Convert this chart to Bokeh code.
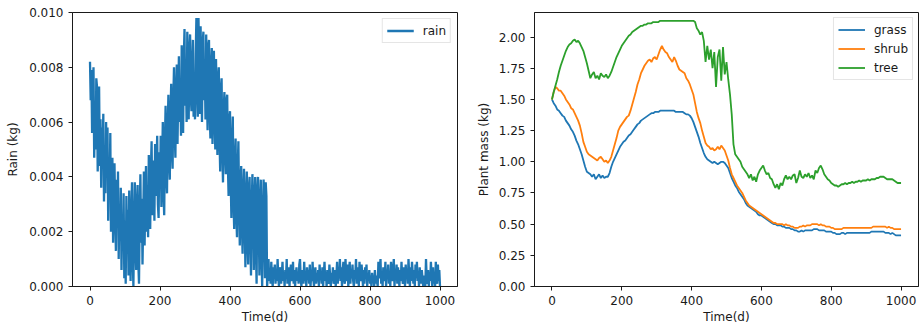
from bokeh.plotting import figure
from bokeh.layouts import row
from bokeh.models import Range1d, FixedTicker, NumeralTickFormatter
from bokeh.embed import file_html
from bokeh.resources import INLINE

# ---------------- data ----------------
# rain, in units of 1e-3 kg, every 2 days from day 0 to day 1000 (25 values per row = 50 days)
rain_g = [
    8.2, 6.8, 7.9, 5.6, 7.0, 8.0, 4.7, 6.3, 5.0, 7.6, 7.3, 4.2, 5.6, 7.3, 4.4, 6.1, 3.6, 5.8, 4.8, 6.3, 3.1, 5.0, 3.4, 6.0, 4.0,
    5.8, 2.4, 4.6, 3.3, 5.6, 2.0, 4.2, 4.7, 1.6, 3.4, 4.5, 2.6, 1.3, 3.9, 2.2, 4.2, 1.0, 3.0, 1.7, 3.6, 0.6, 2.5, 1.4, 3.4, 0.3,
    2.4, 0.1, 3.3, 1.2, 2.8, 0.4, 3.5, 1.9, 0.2, 2.6, 3.8, 1.0, 0.0, 2.2, 3.8, 1.5, 0.6, 3.0, 3.7, 0.9, 0.1, 2.7, 4.1, 1.6, 3.2,
    0.8, 2.4, 4.2, 1.5, 3.3, 4.4, 2.0, 3.7, 1.8, 4.8, 2.9, 2.1, 4.3, 5.3, 2.6, 3.5, 4.6, 2.4, 5.2, 3.3, 4.4, 5.5, 3.0, 2.5, 4.9,
    3.6, 5.5, 2.9, 4.4, 6.0, 3.5, 2.6, 5.3, 6.6, 4.1, 3.4, 5.8, 7.0, 4.6, 3.9, 6.3, 7.4, 5.0, 4.3, 6.8, 8.0, 5.6, 4.7, 7.2, 8.1,
    5.2, 6.9, 8.4, 6.0, 7.5, 5.5, 8.8, 7.0, 5.6, 8.3, 9.4, 6.6, 7.9, 6.0, 9.3, 7.4, 6.1, 8.6, 9.2, 6.9, 6.4, 8.0, 9.0, 6.2, 7.7,
    6.1, 8.5, 9.8, 7.2, 6.2, 9.8, 8.1, 6.3, 9.5, 7.6, 6.0, 8.9, 9.3, 6.8, 7.9, 6.1, 9.2, 7.0, 5.7, 8.8, 9.0, 6.4, 5.4, 8.1, 8.7,
    5.2, 7.3, 8.6, 6.1, 5.0, 8.3, 6.8, 4.8, 7.6, 8.0, 5.4, 4.2, 7.2, 7.6, 5.0, 3.8, 6.4, 7.1, 4.9, 4.1, 6.8, 7.0, 4.4, 3.3, 6.1,
    6.4, 3.9, 2.5, 5.2, 6.2, 3.1, 2.1, 4.6, 5.4, 2.6, 1.8, 4.3, 5.3, 3.0, 1.5, 3.7, 4.4, 2.2, 1.2, 3.5, 4.3, 2.4, 0.7, 3.2, 4.2,
    1.6, 0.8, 3.6, 4.0, 1.9, 0.4, 2.8, 4.1, 3.3, 0.6, 2.2, 4.0, 1.4, 0.1, 3.5, 4.0, 2.5, 0.4, 3.0, 3.9, 1.1, 0.0, 2.7, 3.9, 2.0,
    0.3, 3.8, 3.3, 0.0, 0.4, 1.0, 0.2, 0.6, 0.1, 0.9, 0.3, 0.0, 0.7, 0.4, 0.8, 0.1, 0.5, 0.2, 1.0, 0.3, 0.0, 0.6, 0.7, 0.1, 0.4,
    0.9, 0.2, 0.5, 0.0, 0.6, 0.3, 1.0, 0.1, 0.4, 0.7, 0.0, 0.5, 0.8, 0.2, 0.3, 0.9, 0.1, 0.6, 0.0, 0.4, 0.7, 0.2, 0.5, 0.1, 0.8,
    1.0, 0.3, 0.0, 0.6, 0.4, 0.1, 0.9, 0.2, 0.5, 0.0, 0.7, 0.3, 0.6, 0.1, 0.8, 0.0, 0.4, 0.2, 0.9, 0.3, 0.0, 0.5, 0.7, 0.1, 0.4,
    0.2, 0.6, 0.0, 0.8, 0.3, 0.5, 0.1, 0.7, 0.0, 0.4, 0.9, 0.2, 0.5, 0.0, 0.6, 0.3, 0.1, 0.8, 0.4, 0.0, 0.5, 0.2, 0.7, 0.1, 0.3,
    0.6, 0.0, 0.4, 0.9, 0.1, 0.5, 0.3, 1.0, 0.2, 0.7, 0.0, 0.6, 0.9, 0.3, 0.1, 1.0, 0.4, 0.2, 0.8, 0.0, 0.5, 0.9, 0.1, 0.6, 0.3,
    0.8, 0.2, 0.0, 0.6, 0.4, 1.0, 0.1, 0.5, 0.7, 0.0, 0.9, 0.3, 0.2, 0.8, 0.4, 0.0, 0.6, 0.1, 0.7, 0.3, 0.8, 0.0, 0.5, 0.2, 0.6,
    0.1, 0.4, 0.0, 0.5, 0.2, 0.3, 0.0, 0.6, 0.1, 0.4, 0.2, 0.0, 0.9, 0.3, 0.6, 1.0, 0.1, 0.5, 0.0, 0.7, 0.4, 0.2, 0.9, 0.0, 0.6,
    0.3, 0.8, 0.1, 0.5, 0.0, 0.9, 0.4, 0.2, 0.6, 1.0, 0.0, 0.5, 0.3, 0.8, 0.1, 0.7, 0.4, 0.0, 0.6, 0.2, 0.9, 0.3, 0.1, 0.7, 0.5,
    0.0, 0.8, 0.3, 0.6, 0.1, 1.0, 0.4, 0.0, 0.7, 0.2, 0.9, 0.5, 0.1, 0.6, 0.0, 0.8, 0.3, 0.9, 0.2, 0.5, 0.0, 0.7, 0.4, 0.1, 0.6,
    0.3, 0.0, 0.4, 0.2, 0.0, 1.0, 0.3, 0.1, 0.6, 0.0, 0.5, 0.2, 0.9, 0.4, 0.0, 0.7, 0.1, 0.5, 0.0, 0.9, 0.3, 0.1, 0.8, 0.2, 0.6,
    0.0,
]
rain_days = list(range(0, 2 * len(rain_g), 2))
rain = [v / 1000.0 for v in rain_g]

# plant mass (kg), every 5 days from day 0 to day 1000 (20 values per row = 100 days)
grass = [
    1.50, 1.47, 1.45, 1.42, 1.41, 1.39, 1.37, 1.36, 1.33, 1.31, 1.29, 1.26, 1.24, 1.21, 1.17, 1.14, 1.10, 1.06, 1.01, 0.96,
    0.92, 0.91, 0.90, 0.88, 0.90, 0.86, 0.88, 0.90, 0.87, 0.89, 0.87, 0.88, 0.88, 0.91, 0.96, 1.00, 1.03, 1.06, 1.09, 1.12,
    1.14, 1.16, 1.17, 1.19, 1.21, 1.22, 1.24, 1.26, 1.28, 1.30, 1.31, 1.33, 1.34, 1.35, 1.36, 1.37, 1.38, 1.39, 1.39, 1.40,
    1.40, 1.40, 1.41, 1.41, 1.41, 1.41, 1.41, 1.41, 1.41, 1.41, 1.41, 1.40, 1.40, 1.40, 1.40, 1.40, 1.39, 1.38, 1.38, 1.37,
    1.35, 1.32, 1.28, 1.24, 1.20, 1.15, 1.11, 1.07, 1.04, 1.02, 1.01, 1.00, 0.99, 1.00, 0.99, 0.98, 0.99, 1.00, 1.00, 0.99,
    0.97, 0.95, 0.91, 0.87, 0.84, 0.81, 0.79, 0.76, 0.74, 0.72, 0.70, 0.67, 0.65, 0.64, 0.63, 0.62, 0.61, 0.60, 0.58, 0.57,
    0.57, 0.56, 0.55, 0.54, 0.53, 0.52, 0.51, 0.50, 0.50, 0.49, 0.49, 0.49, 0.48, 0.48, 0.47, 0.47, 0.47, 0.46, 0.46, 0.45,
    0.45, 0.44, 0.44, 0.45, 0.44, 0.45, 0.45, 0.45, 0.45, 0.45, 0.46, 0.46, 0.46, 0.45, 0.45, 0.45, 0.45, 0.44, 0.44, 0.44,
    0.44, 0.43, 0.43, 0.42, 0.42, 0.42, 0.43, 0.43, 0.42, 0.43, 0.43, 0.43, 0.43, 0.43, 0.43, 0.43, 0.43, 0.43, 0.43, 0.43,
    0.43, 0.43, 0.43, 0.44, 0.44, 0.44, 0.44, 0.44, 0.44, 0.44, 0.44, 0.43, 0.43, 0.43, 0.42, 0.43, 0.42, 0.41, 0.41, 0.41,
    0.41,
]
shrub = [
    1.50, 1.56, 1.60, 1.59, 1.57, 1.57, 1.55, 1.53, 1.50, 1.48, 1.46, 1.43, 1.42, 1.39, 1.36, 1.33, 1.29, 1.23, 1.16, 1.12,
    1.08, 1.06, 1.05, 1.04, 1.03, 1.02, 1.01, 1.03, 1.04, 1.02, 1.00, 1.01, 0.99, 1.01, 1.04, 1.09, 1.14, 1.19, 1.25, 1.28,
    1.30, 1.32, 1.34, 1.36, 1.37, 1.41, 1.46, 1.51, 1.56, 1.62, 1.66, 1.71, 1.74, 1.77, 1.79, 1.81, 1.82, 1.80, 1.83, 1.84,
    1.82, 1.86, 1.90, 1.93, 1.90, 1.88, 1.87, 1.84, 1.82, 1.80, 1.84, 1.81, 1.77, 1.74, 1.73, 1.72, 1.71, 1.67, 1.65, 1.62,
    1.58, 1.54, 1.47, 1.40, 1.35, 1.31, 1.25, 1.20, 1.15, 1.13, 1.12, 1.10, 1.11, 1.09, 1.10, 1.12, 1.10, 1.13, 1.11, 1.09,
    1.05, 1.01, 0.95, 0.90, 0.87, 0.84, 0.81, 0.79, 0.77, 0.75, 0.72, 0.69, 0.67, 0.65, 0.64, 0.63, 0.62, 0.61, 0.60, 0.59,
    0.58, 0.57, 0.56, 0.55, 0.54, 0.53, 0.52, 0.51, 0.51, 0.50, 0.50, 0.50, 0.50, 0.49, 0.50, 0.49, 0.49, 0.48, 0.48, 0.47,
    0.47, 0.47, 0.48, 0.48, 0.49, 0.48, 0.49, 0.49, 0.49, 0.50, 0.50, 0.50, 0.50, 0.49, 0.50, 0.49, 0.49, 0.48, 0.48, 0.48,
    0.47, 0.47, 0.46, 0.46, 0.46, 0.46, 0.46, 0.47, 0.47, 0.47, 0.47, 0.47, 0.47, 0.47, 0.47, 0.47, 0.47, 0.47, 0.47, 0.47,
    0.47, 0.47, 0.47, 0.47, 0.48, 0.48, 0.48, 0.48, 0.48, 0.48, 0.48, 0.48, 0.47, 0.48, 0.47, 0.47, 0.46, 0.46, 0.46, 0.46,
    0.46,
]
tree = [
    1.50, 1.56, 1.61, 1.66, 1.72, 1.77, 1.81, 1.85, 1.89, 1.92, 1.94, 1.95, 1.97, 1.98, 1.96, 1.97, 1.95, 1.92, 1.89, 1.84,
    1.79, 1.73, 1.67, 1.70, 1.72, 1.67, 1.69, 1.66, 1.71, 1.69, 1.68, 1.70, 1.67, 1.69, 1.72, 1.76, 1.80, 1.84, 1.87, 1.90,
    1.93, 1.95, 1.97, 1.99, 2.01, 2.02, 2.04, 2.05, 2.06, 2.07, 2.08, 2.09, 2.09, 2.10, 2.10, 2.11, 2.11, 2.11, 2.12, 2.12,
    2.12, 2.12, 2.13, 2.13, 2.13, 2.13, 2.13, 2.13, 2.13, 2.13, 2.13, 2.13, 2.13, 2.13, 2.13, 2.13, 2.13, 2.13, 2.13, 2.13,
    2.13, 2.13, 2.12, 2.07, 2.05, 2.02, 2.04, 1.97, 1.80, 1.93, 1.82, 1.90, 1.75, 1.88, 1.60, 1.84, 1.90, 1.65, 1.92, 1.70,
    1.80, 1.66, 1.54, 1.38, 1.14, 1.06, 1.04, 1.02, 1.00, 0.96, 0.94, 0.92, 0.90, 0.87, 0.90, 0.85, 0.88, 0.84, 0.90, 0.93,
    0.95, 0.97, 0.93, 0.90, 0.91, 0.87, 0.86, 0.82, 0.79, 0.82, 0.78, 0.83, 0.81, 0.86, 0.89, 0.86, 0.88, 0.86, 0.89, 0.90,
    0.83, 0.87, 0.93, 0.88, 0.87, 0.90, 0.88, 0.91, 0.87, 0.89, 0.86, 0.93, 0.91, 0.95, 0.97, 0.94, 0.90, 0.88, 0.86, 0.85,
    0.83, 0.82, 0.81, 0.81, 0.80, 0.81, 0.82, 0.82, 0.83, 0.82, 0.83, 0.83, 0.84, 0.83, 0.84, 0.84, 0.85, 0.84, 0.85, 0.85,
    0.85, 0.86, 0.85, 0.86, 0.86, 0.86, 0.87, 0.87, 0.88, 0.88, 0.88, 0.87, 0.86, 0.86, 0.86, 0.86, 0.85, 0.84, 0.83, 0.83,
    0.83,
]
mass_days = list(range(0, 5 * len(grass), 5))

x_ticks = [0, 200, 400, 600, 800, 1000]
rain_ticks = [0.0, 0.002, 0.004, 0.006, 0.008, 0.010]
mass_ticks = [0.0, 0.25, 0.5, 0.75, 1.0, 1.25, 1.5, 1.75, 2.0]

FONT = "DejaVu Sans"
INK = "#1a1a1a"
C_BLUE, C_ORANGE, C_GREEN = "#1f77b4", "#ff7f0e", "#2ca02c"
LW = 1.8
H = 326


def style(p):
    p.xgrid.visible = False
    p.ygrid.visible = False
    p.outline_line_color = INK
    p.outline_line_width = 1
    p.outline_line_alpha = 1
    p.background_fill_color = "white"
    p.border_fill_color = "white"
    for ax in (p.xaxis[0], p.yaxis[0]):
        ax.axis_line_color = INK
        ax.major_tick_line_color = INK
        ax.major_tick_out = 4
        ax.major_tick_in = 0
        ax.minor_tick_line_color = None
        ax.major_label_text_font = FONT
        ax.major_label_text_font_size = "12px"
        ax.major_label_text_color = INK
        ax.axis_label_text_font = FONT
        ax.axis_label_text_font_size = "12px"
        ax.axis_label_text_font_style = "normal"
        ax.axis_label_text_color = INK
        ax.major_label_standoff = 5
    p.xaxis[0].axis_label_standoff = 2
    p.xaxis[0].ticker = FixedTicker(ticks=x_ticks)


def style_legend(p, margin):
    lg = p.legend[0]
    lg.location = "top_right"
    lg.margin = margin
    lg.padding = 4
    lg.spacing = 4
    lg.glyph_width = 27
    lg.glyph_height = 15
    lg.label_height = 15
    lg.label_standoff = 9
    lg.label_text_font = FONT
    lg.label_text_font_size = "12px"
    lg.label_text_color = INK
    lg.border_line_color = "#cccccc"
    lg.border_line_width = 1
    lg.background_fill_color = "white"
    lg.background_fill_alpha = 0.8


# ---------------- left: rain ----------------
p1 = figure(width=462, height=H, output_backend="svg", toolbar_location=None,
            x_range=Range1d(-50, 1050), y_range=Range1d(0, 0.010),
            min_border_left=72, min_border_right=5, min_border_top=12, min_border_bottom=40)
p1.line(rain_days, rain, line_color=C_BLUE, line_width=2.3, legend_label="rain")
style(p1)
p1.yaxis[0].axis_label_standoff = 6
p1.yaxis[0].ticker = FixedTicker(ticks=rain_ticks)
p1.yaxis[0].formatter = NumeralTickFormatter(format="0.000")
p1.xaxis[0].axis_label = "Time(d)"
p1.yaxis[0].axis_label = "Rain (kg)"
style_legend(p1, 6)
p1.legend[0].items[0].renderers[0].glyph.line_width = 2.3

# ---------------- right: plant mass ----------------
p2 = figure(width=457, height=H, output_backend="svg", toolbar_location=None,
            x_range=Range1d(-50, 1050), y_range=Range1d(0, 2.197),
            min_border_left=72, min_border_right=1, min_border_top=12, min_border_bottom=40)
p2.line(mass_days, grass, line_color=C_BLUE, line_width=LW, legend_label="grass")
p2.line(mass_days, shrub, line_color=C_ORANGE, line_width=LW, legend_label="shrub")
p2.line(mass_days, tree, line_color=C_GREEN, line_width=LW, legend_label="tree")
style(p2)
p2.yaxis[0].axis_label_standoff = 5
p2.yaxis[0].ticker = FixedTicker(ticks=mass_ticks)
p2.yaxis[0].formatter = NumeralTickFormatter(format="0.00")
p2.xaxis[0].axis_label = "Time(d)"
p2.yaxis[0].axis_label = "Plant mass (kg)"
style_legend(p2, 5)

layout = row(p1, p2)
open("out.html", "w").write(file_html(layout, INLINE))
